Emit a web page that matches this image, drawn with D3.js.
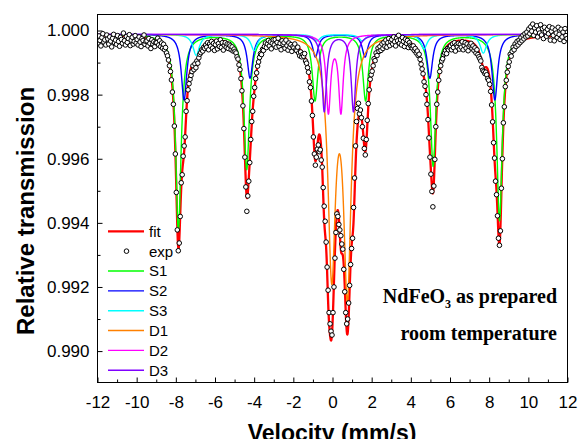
<!DOCTYPE html>
<html>
<head>
<meta charset="utf-8">
<script src="https://cdn.jsdelivr.net/npm/d3@7/dist/d3.min.js"></script>
<style>
  html, body { margin: 0; padding: 0; background: #fff; }
  svg { display: block; }
</style>
</head>
<body>
<svg id="chart" width="579" height="439"></svg>
<script>
// ---- Axis ticks ----
const xTicks = [-12, -10, -8, -6, -4, -2, 0, 2, 4, 6, 8, 10, 12];
const xMinorTicks = [-11, -9, -7, -5, -3, -1, 1, 3, 5, 7, 9, 11];
const yTicks = [0.990, 0.992, 0.994, 0.996, 0.998, 1.000];
const yMinorTicks = [0.991, 0.993, 0.995, 0.997, 0.999];

// ---- Measured spectrum (one value per channel) ----
const expVelocityStart = -11.975;   // mm/s, first channel
const expVelocityStep = 0.05;       // mm/s per channel
const expTransmission = [
  0.99961, 0.99983, 0.99969, 0.99952, 0.99978, 0.99990, 0.99964, 0.99971, 0.99955, 0.99986,
  0.99974, 0.99958, 0.99980, 0.99967, 0.99949, 0.99976, 0.99988, 0.99962, 0.99970, 0.99957,
  0.99984, 0.99966, 0.99951, 0.99979, 0.99972, 0.99960, 0.99992, 0.99968, 0.99955, 0.99981,
  0.99963, 0.99975, 0.99987, 0.99953, 0.99970, 0.99979, 0.99958, 0.99966, 0.99984, 0.99961,
  0.99972, 0.99955, 0.99980, 0.99964, 0.99950, 0.99975, 0.99969, 0.99986, 0.99957, 0.99966,
  0.99968, 0.99952, 0.99975, 0.99960, 0.99944, 0.99971, 0.99958, 0.99965, 0.99950, 0.99962,
  0.99962, 0.99976, 0.99955, 0.99968, 0.99950, 0.99961, 0.99945, 0.99957, 0.99940, 0.99947,
  0.99930, 0.99921, 0.99908, 0.99890, 0.99872, 0.99846, 0.99808, 0.99770, 0.99702, 0.99615,
  0.99495, 0.99378, 0.99313, 0.99337, 0.99420, 0.99525, 0.99550, 0.99608, 0.99640, 0.99668,
  0.99748, 0.99781, 0.99815, 0.99834, 0.99848, 0.99860, 0.99872, 0.99890, 0.99878, 0.99896,
  0.99884, 0.99905, 0.99898, 0.99915, 0.99926, 0.99931, 0.99940, 0.99936, 0.99948, 0.99944,
  0.99955, 0.99948, 0.99962, 0.99940, 0.99958, 0.99951, 0.99966, 0.99945, 0.99960, 0.99938,
  0.99956, 0.99967, 0.99943, 0.99959, 0.99950, 0.99971, 0.99947, 0.99962, 0.99939, 0.99954,
  0.99962, 0.99948, 0.99958, 0.99944, 0.99957, 0.99952, 0.99940, 0.99949, 0.99936, 0.99942,
  0.99935, 0.99930, 0.99918, 0.99911, 0.99893, 0.99878, 0.99850, 0.99812, 0.99765, 0.99694,
  0.99605, 0.99512, 0.99436, 0.99484, 0.99530, 0.99588, 0.99660, 0.99716, 0.99748, 0.99795,
  0.99822, 0.99850, 0.99868, 0.99889, 0.99902, 0.99916, 0.99928, 0.99925, 0.99941, 0.99938,
  0.99950, 0.99961, 0.99947, 0.99958, 0.99969, 0.99952, 0.99964, 0.99943, 0.99960, 0.99971,
  0.99955, 0.99972, 0.99948, 0.99963, 0.99976, 0.99951, 0.99960, 0.99940, 0.99968, 0.99957,
  0.99962, 0.99945, 0.99970, 0.99953, 0.99939, 0.99961, 0.99948, 0.99956, 0.99935, 0.99950,
  0.99946, 0.99958, 0.99940, 0.99937, 0.99948, 0.99930, 0.99921, 0.99933, 0.99918, 0.99925,
  0.99920, 0.99928, 0.99905, 0.99898, 0.99884, 0.99870, 0.99840, 0.99822, 0.99780, 0.99735,
  0.99668, 0.99615, 0.99580, 0.99605, 0.99630, 0.99643, 0.99622, 0.99628, 0.99596, 0.99574,
  0.99510, 0.99452, 0.99405, 0.99340, 0.99262, 0.99190, 0.99120, 0.99085, 0.99062, 0.99050,
  0.99120, 0.99200, 0.99290, 0.99370, 0.99428, 0.99420, 0.99395, 0.99378, 0.99360, 0.99334,
  0.99318, 0.99255, 0.99185, 0.99120, 0.99085, 0.99100, 0.99150, 0.99205, 0.99270, 0.99320,
  0.99352, 0.99448, 0.99540, 0.99640, 0.99716, 0.99757, 0.99773, 0.99740, 0.99752, 0.99728,
  0.99700, 0.99664, 0.99632, 0.99612, 0.99660, 0.99720, 0.99772, 0.99815, 0.99848, 0.99862,
  0.99873, 0.99890, 0.99912, 0.99906, 0.99930, 0.99922, 0.99945, 0.99935, 0.99950, 0.99938,
  0.99958, 0.99944, 0.99963, 0.99951, 0.99970, 0.99948, 0.99962, 0.99975, 0.99953, 0.99966,
  0.99972, 0.99958, 0.99980, 0.99965, 0.99952, 0.99976, 0.99968, 0.99985, 0.99960, 0.99971,
  0.99955, 0.99978, 0.99966, 0.99950, 0.99973, 0.99960, 0.99969, 0.99947, 0.99962, 0.99954,
  0.99950, 0.99945, 0.99952, 0.99938, 0.99944, 0.99930, 0.99936, 0.99922, 0.99926, 0.99910,
  0.99895, 0.99880, 0.99865, 0.99840, 0.99826, 0.99800, 0.99770, 0.99722, 0.99665, 0.99605,
  0.99552, 0.99498, 0.99450, 0.99515, 0.99598, 0.99700, 0.99770, 0.99808, 0.99845, 0.99872,
  0.99890, 0.99905, 0.99912, 0.99925, 0.99930, 0.99938, 0.99928, 0.99944, 0.99940, 0.99948,
  0.99952, 0.99940, 0.99958, 0.99947, 0.99962, 0.99936, 0.99955, 0.99949, 0.99960, 0.99942,
  0.99957, 0.99948, 0.99965, 0.99940, 0.99953, 0.99962, 0.99945, 0.99958, 0.99937, 0.99950,
  0.99955, 0.99960, 0.99944, 0.99952, 0.99938, 0.99946, 0.99930, 0.99940, 0.99925, 0.99918,
  0.99912, 0.99905, 0.99885, 0.99876, 0.99872, 0.99866, 0.99870, 0.99862, 0.99850, 0.99845,
  0.99832, 0.99810, 0.99768, 0.99715, 0.99650, 0.99602, 0.99530, 0.99488, 0.99422, 0.99352,
  0.99330, 0.99375, 0.99508, 0.99600, 0.99712, 0.99762, 0.99825, 0.99845, 0.99870, 0.99888,
  0.99902, 0.99926, 0.99920, 0.99935, 0.99948, 0.99940, 0.99958, 0.99950, 0.99966, 0.99955,
  0.99970, 0.99962, 0.99978, 0.99968, 0.99985, 0.99974, 0.99990, 0.99980, 0.99995, 0.99983,
  1.00005, 0.99990, 1.00012, 0.99998, 1.00020, 0.99985, 1.00008, 0.99995, 1.00015, 0.99980,
  1.00002, 0.99992, 1.00018, 0.99986, 1.00006, 0.99975, 1.00010, 0.99996, 0.99982, 1.00004,
  0.99990, 1.00012, 0.99970, 0.99998, 1.00008, 0.99985, 0.99968, 1.00002, 0.99992, 0.99978,
  1.00010, 0.99988, 0.99972, 1.00004, 0.99980, 0.99995, 0.99966, 1.00006, 0.99984, 0.99975
];

// ---- Fitted sub-spectra: Lorentzian lines (centre mm/s, depth, half width mm/s) ----
const baseline = 0.99988;

const s1Centres = [-7.87, -4.38, -0.89, 1.69, 5.14, 8.53];
const s1Depths  = [0.0061, 0.0042, 0.00205, 0.00205, 0.0041, 0.0058];
const s1HalfWidth = 0.17;

const s2Centres = [-7.58, -4.21, -0.87, 1.66, 4.97, 8.29];
const s2Depths  = [0.00204, 0.00136, 0.0007, 0.0007, 0.00136, 0.00204];
const s2HalfWidth = 0.17;

const s3Centres = [-6.96, -4.00, -0.79, 1.52, 4.67, 7.70];
const s3Depths  = [0.00065, 0.0005, 0.0002, 0.0002, 0.00045, 0.00058];
const s3HalfWidth = 0.20;

const d1Centres = [-0.04, 0.76];
const d1Depths  = [0.0072, 0.0078];
const d1HalfWidth = 0.23;

const d2Centres = [-0.21, 0.43];
const d2Depths  = [0.00238, 0.00238];
const d2HalfWidth = 0.14;

const d3Centres = [-0.42, 1.07];
const d3Depths  = [0.0024, 0.0024];
const d3HalfWidth = 0.14;

const componentNames  = ["S1", "S2", "S3", "D1", "D2", "D3"];
const componentColors = ["#00ff00", "#0000ff", "#00ffff", "#ff8000", "#ff00ff", "#8000ff"];

const components = [
  { centres: s1Centres, depths: s1Depths, hw: s1HalfWidth },
  { centres: s2Centres, depths: s2Depths, hw: s2HalfWidth },
  { centres: s3Centres, depths: s3Depths, hw: s3HalfWidth },
  { centres: d1Centres, depths: d1Depths, hw: d1HalfWidth },
  { centres: d2Centres, depths: d2Depths, hw: d2HalfWidth },
  { centres: d3Centres, depths: d3Depths, hw: d3HalfWidth }
].map((c, i) => ({ ...c, name: componentNames[i], color: componentColors[i] }));

function absorption(comp, v) {
  let s = 0;
  comp.centres.forEach((c, k) => {
    const u = (v - c) / comp.hw;
    s += comp.depths[k] / (1 + u * u);
  });
  return s;
}

// ---- Layout ----
const svg = d3.select("#chart");
const plotLeft = 97.5, plotRight = 567.5, plotTop = 14.5, plotBottom = 382.5;

const x = d3.scaleLinear().domain([-12, 12]).range([plotLeft, plotRight]);
const y = d3.scaleLinear().domain([0.98902, 1.0005]).range([plotBottom, plotTop]);

const sansFont = "'Liberation Sans', Arial, Helvetica, sans-serif";
const serifFont = "'Liberation Serif', 'Times New Roman', Times, serif";

svg.append("defs").append("clipPath").attr("id", "plotClip")
  .append("rect").attr("x", plotLeft).attr("y", plotTop)
  .attr("width", plotRight - plotLeft).attr("height", plotBottom - plotTop);

const plot = svg.append("g").attr("clip-path", "url(#plotClip)");

// Curves sampled on a fine velocity grid
const curveV = d3.range(-12, 12.0001, 0.01);
const lineGen = d3.line().x(d => x(d[0])).y(d => y(d[1]));

const fitPoints = curveV.map(v => [v, baseline - d3.sum(components, c => absorption(c, v))]);
plot.append("path").datum(fitPoints)
  .attr("d", lineGen).attr("fill", "none")
  .attr("stroke", "#ff0000").attr("stroke-width", 2.3).attr("stroke-linejoin", "round");

components.forEach(c => {
  const pts = curveV.map(v => [v, baseline - absorption(c, v)]);
  plot.append("path").datum(pts)
    .attr("d", lineGen).attr("fill", "none")
    .attr("stroke", c.color).attr("stroke-width", 1.4).attr("stroke-linejoin", "round");
});

// Measured points
const expPoints = expTransmission.map((t, i) => [expVelocityStart + i * expVelocityStep, t]);
plot.append("g").selectAll("circle").data(expPoints).join("circle")
  .attr("cx", d => x(d[0])).attr("cy", d => y(d[1])).attr("r", 2.3)
  .attr("fill", "#fff").attr("stroke", "#000").attr("stroke-width", 1);

// ---- Frame and axes ----
svg.append("rect").attr("x", plotLeft).attr("y", plotTop)
  .attr("width", plotRight - plotLeft).attr("height", plotBottom - plotTop)
  .attr("fill", "none").attr("stroke", "#000").attr("stroke-width", 1);

const xAxis = svg.append("g").attr("transform", `translate(0,${plotBottom})`)
  .call(d3.axisBottom(x).tickValues(xTicks).tickSizeInner(-5).tickSizeOuter(0)
    .tickPadding(13).tickFormat(d => String(d)));
const xMinor = svg.append("g").attr("transform", `translate(0,${plotBottom})`)
  .call(d3.axisBottom(x).tickValues(xMinorTicks).tickSizeInner(-3).tickSizeOuter(0).tickFormat(""));

const yAxis = svg.append("g").attr("transform", `translate(${plotLeft},0)`)
  .call(d3.axisLeft(y).tickValues(yTicks).tickSizeInner(-5).tickSizeOuter(0)
    .tickPadding(8).tickFormat(d3.format(".3f")));
const yMinor = svg.append("g").attr("transform", `translate(${plotLeft},0)`)
  .call(d3.axisLeft(y).tickValues(yMinorTicks).tickSizeInner(-3).tickSizeOuter(0).tickFormat(""));

[xAxis, xMinor, yAxis, yMinor].forEach(g => {
  g.select(".domain").remove();
  g.selectAll("line").attr("stroke", "#000").attr("stroke-width", 1);
  g.selectAll("text").attr("font-family", sansFont).attr("font-size", 17).attr("fill", "#000");
});

// Axis titles
svg.append("text")
  .attr("transform", "translate(34,211) rotate(-90)")
  .attr("text-anchor", "middle")
  .attr("font-family", sansFont).attr("font-weight", "bold").attr("font-size", 24)
  .text("Relative transmission");

svg.append("text")
  .attr("x", 332).attr("y", 441)
  .attr("text-anchor", "middle")
  .attr("font-family", sansFont).attr("font-weight", "bold").attr("font-size", 23)
  .text("Velocity (mm/s)");

// ---- Legend ----
const legendItems = [
  { label: "fit", color: "#ff0000", type: "line", width: 2.3 },
  { label: "exp", color: "#000", type: "point" },
  ...components.map(c => ({ label: c.name, color: c.color, type: "line", width: 1.4 }))
];
const legend = svg.append("g");
legendItems.forEach((item, i) => {
  const ly = 231.3 + i * 19.85;
  if (item.type === "line") {
    legend.append("line").attr("x1", 108).attr("x2", 144).attr("y1", ly).attr("y2", ly)
      .attr("stroke", item.color).attr("stroke-width", item.width);
  } else {
    legend.append("circle").attr("cx", 126.5).attr("cy", ly).attr("r", 2.3)
      .attr("fill", "#fff").attr("stroke", "#000").attr("stroke-width", 1);
  }
  legend.append("text").attr("x", 149).attr("y", ly).attr("dy", "0.36em")
    .attr("font-family", sansFont).attr("font-size", 15).attr("fill", "#000")
    .text(item.label);
});

// ---- Sample annotation ----
const note = svg.append("g")
  .attr("font-family", serifFont).attr("font-weight", "bold").attr("font-size", 20)
  .attr("text-anchor", "end").attr("fill", "#000");
const noteLine1 = note.append("text").attr("x", 557).attr("y", 303);
noteLine1.append("tspan").text("NdFeO");
noteLine1.append("tspan").attr("dy", 5).attr("font-size", 12).text("3");
noteLine1.append("tspan").attr("dy", -5).text(" as prepared");
note.append("text").attr("x", 557).attr("y", 340).text("room temperature");
</script>
</body>
</html>
